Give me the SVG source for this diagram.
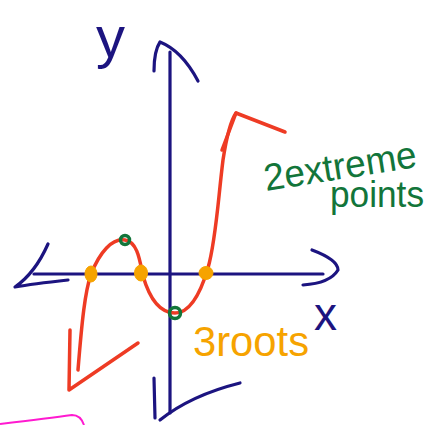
<svg xmlns="http://www.w3.org/2000/svg" width="434" height="425" viewBox="0 0 434 425">
<style>
.ax{fill:none;stroke:#1c1480;stroke-width:3.2;stroke-linecap:round;stroke-linejoin:round}
.cv{fill:none;stroke:#ee3b24;stroke-width:3.5;stroke-linecap:round;stroke-linejoin:round}
.ext{fill:none;stroke:#12753a;stroke-width:3.5}
.root{fill:#f6a300;stroke:#f6a300;stroke-width:1}
.lbl{font-family:"Liberation Sans",Arial,sans-serif}
</style>
<rect width="434" height="425" fill="#ffffff"/>
<g id="axes">
  <path class="ax" d="M170 52 L170 413"/>
  <path class="ax" d="M154 71 C154 60 156 48 160 42 C175 48 188 62 198 81"/>
  <path class="ax" d="M154 378 L155 418 M160 420 C185 400 212 390 240 383"/>
  <path class="ax" d="M34 274 L323 274"/>
  <path class="ax" d="M48 244 C40 262 28 278 15 287 C32 284 50 282 68 280"/>
  <path class="ax" d="M312 250 C328 256 338 263 338 270 C332 280 318 284 303 285"/>
</g>
<g id="curve">
  <path class="cv" d="M78 370 C82 320 85 292 91 274 C100 252 112 238 125 240 C138 242 140 262 143 276 C150 300 160 313 175 313 C190 313 200 295 208 268 C216 240 218 200 223 160 C227 134 231 120 236 113"/>
  <path class="cv" d="M222 150 L236 113 L285 132"/>
  <path class="cv" d="M70 330 L69 390 L138 343"/>
</g>
<g id="roots">
  <ellipse class="root" cx="91" cy="274" rx="6" ry="8"/>
  <ellipse class="root" cx="141" cy="273" rx="6.5" ry="8"/>
  <ellipse class="root" cx="206" cy="273" rx="7" ry="6.5"/>
</g>
<g id="extremes">
  <circle class="ext" cx="125" cy="240" r="4.5"/>
  <circle class="ext" cx="175" cy="313" r="5.5"/>
</g>
<g id="labels">
  <text class="lbl" x="96" y="57" font-size="58" fill="#1c1480">y</text>
  <text class="lbl" x="314" y="330" font-size="46" fill="#1c1480">x</text>
  <text class="lbl" x="266" y="191" font-size="38" fill="#12753a" textLength="154" lengthAdjust="spacingAndGlyphs" transform="rotate(-9 266 191)">2extreme</text>
  <text class="lbl" x="330" y="207" font-size="36" fill="#12753a" textLength="94" lengthAdjust="spacingAndGlyphs">points</text>
  <text class="lbl" x="193" y="356" font-size="42" fill="#f6a300" textLength="116" lengthAdjust="spacingAndGlyphs">3roots</text>
</g>
<path d="M0 424 C25 421 50 418 72 415 C78 415 82 419 84 425" fill="none" stroke="#ff1ad0" stroke-width="2"/>
</svg>
